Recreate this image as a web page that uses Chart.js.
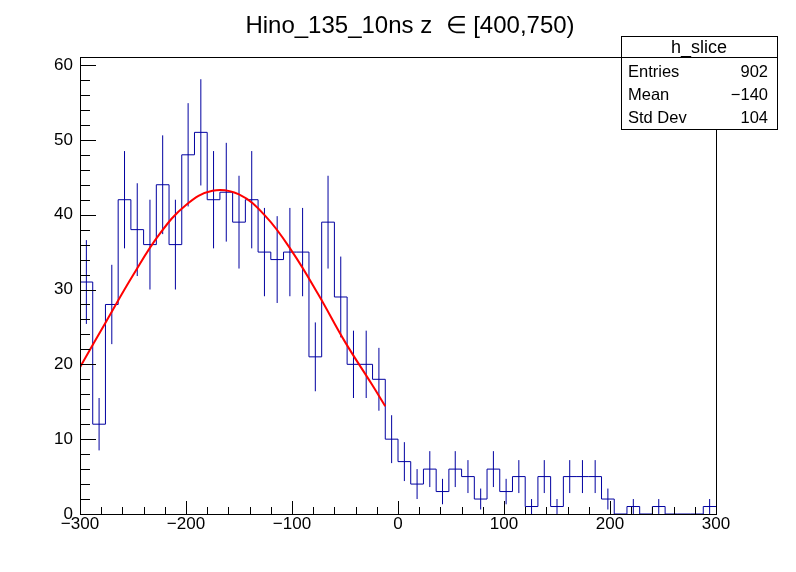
<!DOCTYPE html>
<html>
<head>
<meta charset="utf-8">
<title>h_slice</title>
<script src="https://cdn.jsdelivr.net/npm/chart.js@4.4.1/dist/chart.umd.min.js"></script>
<style>
  html, body { margin: 0; padding: 0; background: #fff; }
  #wrap { width: 796px; height: 572px; }
</style>
</head>
<body>
<div id="wrap"><canvas id="histChart" width="796" height="572"></canvas></div>
<script>
// --- DATA ---
const chartTitle = "Hino_135_10ns z  \u2208 [400,750)";
const binLow = -300;
const binWidth = 12;

// 50 bins of 12 from -300 to 300
const counts = [
  31, 12, 28, 42, 38, 36, 44, 36, 48, 51,
  42, 43, 39, 42, 35, 34, 35, 35, 21, 39,
  29, 20, 20, 18, 10, 7, 4, 6, 3, 6,
  5, 2, 6, 3, 5, 1, 5, 1, 5, 5,
  5, 2, 0, 1, 0, 1, 0, 0, 0, 1
];
const errors = [
  5.6, 3.5, 5.3, 6.5, 6.2, 6.0, 6.6, 6.0, 6.9, 7.1,
  6.5, 6.6, 6.2, 6.5, 5.9, 5.8, 5.9, 5.9, 4.6, 6.2,
  5.4, 4.5, 4.5, 4.2, 3.2, 2.6, 2.0, 2.4, 1.7, 2.4,
  2.2, 1.4, 2.4, 1.7, 2.2, 1.0, 2.2, 1.0, 2.2, 2.2,
  2.2, 1.4, 0, 1.0, 0, 1.0, 0, 0, 0, 1.0
];

// red fit curve
const fitX = [-300, -275, -250, -225, -200, -175, -150, -125, -100, -75, -50, -25, -12];
const fitY = [19.6, 25.8, 31.9, 37.4, 41.3, 43.2, 42.7, 39.8, 35.1, 29.3, 23.0, 17.4, 14.4];

const xTicks = [-300, -200, -100, 0, 100, 200, 300];
const yTicks = [0, 10, 20, 30, 40, 50, 60];

const statsName = "h_slice";
const statLabels = ["Entries", "Mean", "Std Dev"];
const statValues = ["902", "\u2212140", "104"];

const histColor = "#0000a0";
const fontFamily = "'Liberation Sans', Arial, Helvetica, sans-serif";

// --- BUILD DATASETS ---
const histPoints = counts.map((c, i) => ({ x: binLow + i * binWidth, y: c }));
histPoints.push({ x: binLow + counts.length * binWidth, y: counts[counts.length - 1] });

const errPoints = [];
counts.forEach((c, i) => {
  if (c <= 0) return;
  const xc = binLow + (i + 0.5) * binWidth;
  errPoints.push({ x: xc, y: c - errors[i] });
  errPoints.push({ x: xc, y: c + errors[i] });
  errPoints.push({ x: xc, y: null });
});

const fitPoints = fitX.map((x, i) => ({ x: x, y: fitY[i] }));

const minus = (v) => String(v).replace("-", "\u2212");

// frame, inner ticks, title and stats box in ROOT style
const rootDecor = {
  id: "rootDecor",
  afterDraw(chart) {
    const ctx = chart.ctx;
    const area = chart.chartArea;
    const xs = chart.scales.x;
    const ys = chart.scales.y;

    ctx.save();
    ctx.strokeStyle = "#000";
    ctx.lineWidth = 1;
    ctx.strokeRect(area.left + 0.5, area.top + 0.5, area.right - area.left, area.bottom - area.top);

    ctx.beginPath();
    // x ticks (major every 100, minor every 20)
    for (let v = xs.min; v <= xs.max; v += 20) {
      const px = Math.round(xs.getPixelForValue(v)) + 0.5;
      const len = v % 100 === 0 ? 13 : 7;
      ctx.moveTo(px, area.bottom);
      ctx.lineTo(px, area.bottom - len);
    }
    // y ticks (major every 10, minor every 2)
    for (let v = 0; v <= ys.max; v += 2) {
      const py = Math.round(ys.getPixelForValue(v)) + 0.5;
      const len = v % 10 === 0 ? 16 : 10;
      ctx.moveTo(area.left, py);
      ctx.lineTo(area.left + len, py);
    }
    ctx.stroke();

    // title
    ctx.fillStyle = "#000";
    ctx.font = "24px " + fontFamily;
    ctx.textAlign = "center";
    ctx.textBaseline = "alphabetic";
    ctx.fillText(chartTitle, 410, 33);

    // stats box
    const bx = 621, by = 36, bw = 156, bh = 93;
    ctx.fillStyle = "#fff";
    ctx.fillRect(bx, by, bw, bh);
    ctx.strokeRect(bx + 0.5, by + 0.5, bw, bh);
    ctx.beginPath();
    ctx.moveTo(bx, 57.5);
    ctx.lineTo(bx + bw, 57.5);
    ctx.stroke();

    ctx.fillStyle = "#000";
    ctx.font = "18px " + fontFamily;
    ctx.textAlign = "center";
    ctx.fillText(statsName, bx + bw / 2, 53);
    ctx.font = "16.5px " + fontFamily;
    statLabels.forEach((lab, i) => {
      const yy = 77 + i * 23;
      ctx.textAlign = "left";
      ctx.fillText(lab, 628, yy);
      ctx.textAlign = "right";
      ctx.fillText(statValues[i], 768, yy);
    });
    ctx.restore();
  },
};

const chart = new Chart(document.getElementById("histChart"), {
  type: "line",
  data: {
    datasets: [
      {
        label: "fit",
        data: fitPoints,
        borderColor: "#ff0000",
        borderWidth: 2,
        pointRadius: 0,
        tension: 0.4,
        fill: false,
        order: 0,
      },
      {
        label: statsName,
        data: histPoints,
        borderColor: histColor,
        borderWidth: 1,
        pointRadius: 0,
        stepped: "before",
        fill: false,
        order: 1,
      },
      {
        label: "errors",
        data: errPoints,
        borderColor: histColor,
        borderWidth: 1,
        pointRadius: 0,
        spanGaps: false,
        fill: false,
        order: 2,
      },
    ],
  },
  options: {
    responsive: false,
    animation: false,
    devicePixelRatio: 1,
    layout: { padding: { top: 57, right: 80, left: 0, bottom: 0 } },
    plugins: {
      legend: { display: false },
      tooltip: { enabled: false },
      title: { display: false },
    },
    scales: {
      x: {
        type: "linear",
        min: -300,
        max: 300,
        afterBuildTicks: (s) => { s.ticks = xTicks.map((v) => ({ value: v })); },
        afterFit: (s) => { s.height = 58; },
        grid: { display: false, drawTicks: false },
        border: { display: false },
        ticks: {
          color: "#000",
          padding: 0,
          maxRotation: 0,
          font: { family: fontFamily, size: 17 },
          callback: (v) => minus(v),
        },
      },
      y: {
        type: "linear",
        min: 0,
        max: 61.07,
        afterBuildTicks: (s) => { s.ticks = yTicks.map((v) => ({ value: v })); },
        afterFit: (s) => { s.width = 80; },
        grid: { display: false, drawTicks: false },
        border: { display: false },
        ticks: {
          color: "#000",
          padding: 7,
          font: { family: fontFamily, size: 17 },
        },
      },
    },
  },
  plugins: [rootDecor],
});
</script>
</body>
</html>
